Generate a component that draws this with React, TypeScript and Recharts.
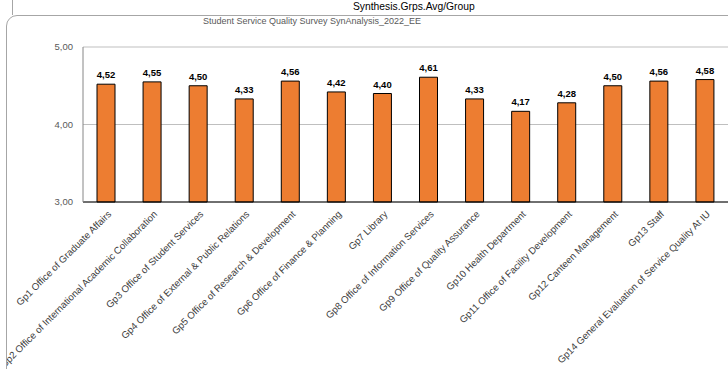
import React from "react";
import { BarChart, Bar, XAxis, YAxis, CartesianGrid, LabelList } from "recharts";

// Group names and their average scores
const groups: string[] = [
  "Gp1 Office of Graduate Affairs",
  "Gp2 Office of International Academic Collaboration",
  "Gp3 Office of Student Services",
  "Gp4 Office of External & Public Relations",
  "Gp5 Office of Research & Development",
  "Gp6 Office of Finance & Planning",
  "Gp7 Library",
  "Gp8 Office of Information Services",
  "Gp9 Office of Quality Assurance",
  "Gp10 Health Department",
  "Gp11 Office of Facility Development",
  "Gp12 Canteen Management",
  "Gp13 Staff",
  "Gp14 General Evaluation of Service Quality At IU",
];
const averages: number[] = [4.52, 4.55, 4.5, 4.33, 4.56, 4.42, 4.4, 4.61, 4.33, 4.17, 4.28, 4.5, 4.56, 4.58];
const yTicks: number[] = [3, 4, 5];

const title = "Synthesis.Grps.Avg/Group";
const subtitle = "Student Service Quality Survey SynAnalysis_2022_EE";

const rows = groups.map((g, i) => ({ group: g, avg: averages[i] }));

const FONT = "'Liberation Sans', Arial, sans-serif";
const fmt = (v: number) => v.toFixed(2).replace(".", ",");

const GroupTick = (props: any) => {
  const { x, y, payload } = props;
  const ax = x + 1;
  return (
    <text
      x={ax}
      y={y}
      transform={`rotate(-45, ${ax}, ${y})`}
      textAnchor="end"
      dy="0.7em"
      fontFamily={FONT}
      fontSize={9.7}
      fill="#404040"
    >
      {payload.value}
    </text>
  );
};

export default function App() {
  return (
    <div
      style={{
        position: "fixed",
        left: 0,
        top: 0,
        width: 728,
        height: 369,
        overflow: "hidden",
        background: "#fff",
        fontFamily: FONT,
      }}
    >
      {/* outer cell edge */}
      <div style={{ position: "absolute", left: 12, top: 0, width: 1, height: 15, background: "#a6a6a6" }} />
      <div
        style={{
          position: "absolute",
          left: 0,
          top: 1,
          width: 728,
          textAlign: "left",
          paddingLeft: 353,
          fontSize: 10.3,
          color: "#000",
          lineHeight: "12px",
          whiteSpace: "nowrap",
        }}
      >
        {title}
      </div>
      {/* rounded chart frame */}
      <div
        style={{
          position: "absolute",
          left: 6,
          top: 15,
          width: 760,
          height: 400,
          border: "1px solid #a6a6a6",
          borderTopLeftRadius: 11,
          overflow: "hidden",
          boxSizing: "border-box",
        }}
      >
        <div
          style={{
            position: "absolute",
            left: 196,
            top: 0,
            fontSize: 9,
            color: "#595959",
            lineHeight: "11px",
            whiteSpace: "nowrap",
          }}
        >
          {subtitle}
        </div>
        <div style={{ position: "absolute", left: -1, top: -1 }}>
          <BarChart
            width={730}
            height={355}
            data={rows}
            margin={{ top: 32, right: 8, bottom: 0, left: 0 }}
            barSize={18}
          >
            <CartesianGrid vertical={false} stroke="#bfbfbf" />
            <XAxis
              dataKey="group"
              interval={0}
              tickLine={false}
              axisLine={{ stroke: "#000" }}
              height={168}
              tick={<GroupTick />}
            />
            <YAxis
              domain={[3, 5]}
              ticks={yTicks}
              width={77}
              tickLine={false}
              tickMargin={4}
              axisLine={{ stroke: "#868686" }}
              tickFormatter={fmt}
              tick={{ fontSize: 9.5, fill: "#595959", fontFamily: FONT }}
            />
            <Bar dataKey="avg" fill="#ED7D31" stroke="#000" strokeWidth={1} isAnimationActive={false}>
              <LabelList
                dataKey="avg"
                position="top"
                offset={6}
                formatter={(v: any) => fmt(Number(v))}
                style={{ fontSize: 9.5, fontWeight: "bold", fill: "#000", fontFamily: FONT }}
              />
            </Bar>
          </BarChart>
        </div>
      </div>
    </div>
  );
}
